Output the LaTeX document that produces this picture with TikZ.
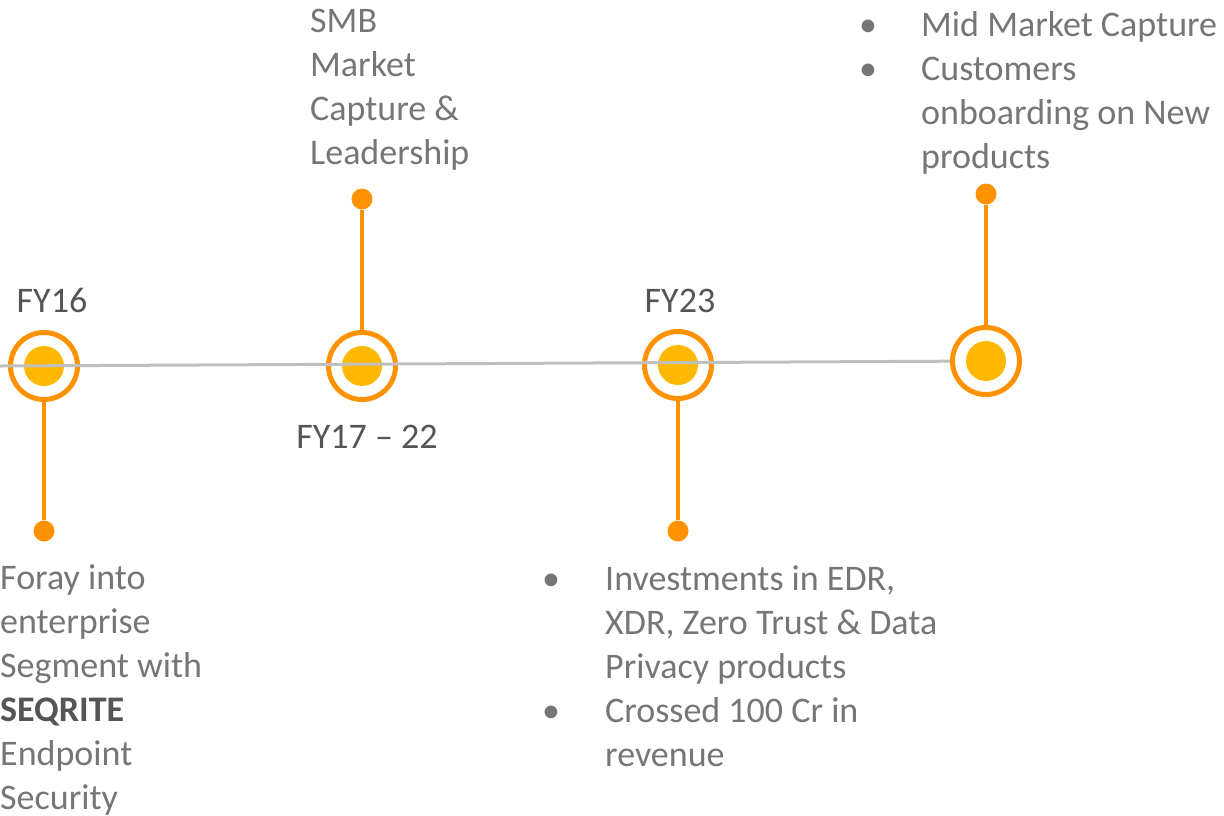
\documentclass[tikz,border=0pt]{standalone}
\usepackage{fontspec}
\setmainfont{Carlito}
\usetikzlibrary{positioning}

\definecolor{ringorange}{HTML}{FF9200}
\definecolor{coreamber}{HTML}{FFB800}
\definecolor{axisgray}{HTML}{BFBFBF}
\definecolor{notegray}{HTML}{767676}
\definecolor{yeargray}{HTML}{555555}

\begin{document}
\begin{tikzpicture}[x=1pt, y=-1pt,
    every node/.style={font=\fontsize{36}{44}\selectfont},
    milestone/.style={circle, draw=ringorange, line width=5pt, fill=white, minimum size=67pt, inner sep=0pt},
    core/.style={circle, fill=coreamber, minimum size=40pt, inner sep=0pt},
    tip/.style={circle, fill=ringorange, minimum size=21pt, inner sep=0pt},
    stem/.style={draw=ringorange, line width=4pt},
    year/.style={text=yeargray, inner sep=0pt, anchor=base},
    note/.style={text=notegray, align=left, inner sep=0pt, anchor=base west},
    bullet/.style={text=notegray, inner sep=0pt, anchor=base}]
    \useasboundingbox (0,0) rectangle (1224,815);

    % milestones on the axis
    \node[milestone] (M1) at (44,366) {};
    \node[milestone] (M2) at (362,366) {};
    \node[milestone] (M3) at (678,365) {};
    \node[milestone] (M4) at (986,361) {};
    \node[core] (C1) at (44,366) {};
    \node[core] (C2) at (362,366) {};
    \node[core] (C3) at (678,365) {};
    \node[core] (C4) at (986,361) {};

    % axis
    \coordinate (start) at (0,366);
    \draw[axisgray, line width=3pt] (start) -- (M4);

    % stems and tips
    \node[tip] (T1) at (44,531) {};
    \node[tip] (T2) at (362,199) {};
    \node[tip] (T3) at (678,531) {};
    \node[tip] (T4) at (986,194) {};
    \draw[stem] (M1) -- (T1);
    \draw[stem] (M2) -- (T2);
    \draw[stem] (M3) -- (T3);
    \draw[stem] (M4) -- (T4);

    % years
    \node[year] (Y1) at (52,312) {FY16};
    \node[year] (Y2) at (367,448) {FY17 – 22};
    \node[year] (Y3) at (680,312) {FY23};

    % notes (base = last line)
    \node[note] (N1) at (0,809) {Foray into\\enterprise\\Segment with\\\textcolor{yeargray}{\textbf{SEQRITE}}\\Endpoint\\Security};
    \node[note] (N2) at (310,164) {SMB\\Market\\Capture \&\\Leadership};

    \node[bullet] (B3a) at (551,590) {•};
    \node[note] (N3a) at (605,678) {Investments in EDR,\\XDR, Zero Trust \& Data\\Privacy products};
    \node[bullet] (B3b) at (551,722) {•};
    \node[note] (N3b) at (605,766) {Crossed 100 Cr in\\revenue};

    \node[bullet] (B4a) at (868,36) {•};
    \node[note] (N4a) at (921,36) {Mid Market Capture};
    \node[bullet] (B4b) at (868,80) {•};
    \node[note] (N4b) at (921,168) {Customers\\onboarding on New\\products};
\end{tikzpicture}
\end{document}
